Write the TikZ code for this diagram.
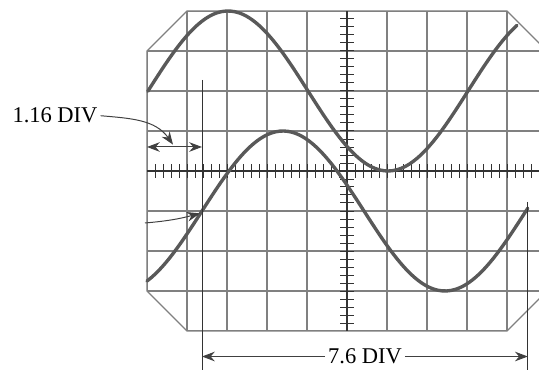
\documentclass[tikz,border=0pt]{standalone}
\usepackage{fontspec}
\setmainfont{Liberation Serif}
\usetikzlibrary{arrows.meta,positioning}

\begin{document}
\begin{tikzpicture}[scale=1,
    gridline/.style={draw=black!50, line width=0.8pt},
    axisline/.style={draw=black!80, line width=0.9pt},
    axtick/.style={draw=black!80, line width=0.7pt},
    wave/.style={draw=black!65, line width=2.4pt, line cap=round},
    mark line/.style={draw=black!80, line width=0.7pt},
    dim/.style={-{Stealth[length=3.2mm,width=2.4mm]}, draw=black!75, line width=0.7pt},
    lbl/.style={font=\fontsize{16}{19}\selectfont, inner xsep=2pt, inner ysep=0pt}
]
\useasboundingbox (-8.675,-4.975) rectangle (4.8,4.275);
\clip (-8.675,-4.975) rectangle (4.8,4.275);
% screen
\begin{scope}
\clip (-5,3) -- (-4,4) -- (4,4) -- (5,3) -- (5,-3) -- (4,-4) -- (-4,-4) -- (-5,-3) -- cycle;
\draw[gridline] (-5,-4) grid (5,4);
\end{scope}
\draw[gridline] (-5,3) -- (-4,4) -- (4,4) -- (5,3) -- (5,-3) -- (4,-4) -- (-4,-4) -- (-5,-3) -- cycle;
\draw[axisline] (-5,0) -- (5,0);
\draw[axisline] (0,-4) -- (0,4);
\foreach \i in {-24,...,24}
    \draw[axtick] (\i/5,-0.17) -- (\i/5,0.17);
\foreach \j in {-19,...,19}
    \draw[axtick] (-0.17,\j/5) -- (0.17,\j/5);
% traces
\draw[wave] plot[domain=-4.98:4.25, samples=90, smooth] (\x, {2+2*cos(360*(\x+2.975)/8)});
\draw[wave] plot[domain=-5:4.52, samples=90, smooth] (\x, {-1+2*sin(360*(\x+3.625)/8.1)});
% markers
\coordinate (vL1) at (-3.625,2.275);
\coordinate (vL2) at (-3.625,-5.2);
\coordinate (vR1) at (4.52,-0.775);
\coordinate (vR2) at (4.52,-5.2);
\draw[mark line] (vL1) -- (vL2);
\draw[mark line] (vR1) -- (vR2);
\coordinate (s1) at (-5,0.6);
\coordinate (s2) at (-3.625,0.6);
\draw[dim, {Stealth[length=3.2mm,width=2.4mm]}-{Stealth[length=3.2mm,width=2.4mm]}] (s1) -- (s2);
\node[lbl, anchor=base] (t116) at (-7.3,1.2) {1.16 DIV};
\coordinate (p116) at (-4.35,0.66);
\draw[dim] (t116.east) to[out=-5, in=125] (p116);
\coordinate (pA) at (-5.05,-1.3);
\coordinate (pB) at (-3.68,-1.06);
\draw[dim] (pA) to[out=5, in=195] (pB);
\node[lbl, anchor=base] (t76) at (0.45,-4.82) {7.6 DIV};
\draw[dim] (t76.west) -- (t76.west -| vL1);
\draw[dim] (t76.east) -- (t76.east -| vR1);
\end{tikzpicture}
\end{document}
